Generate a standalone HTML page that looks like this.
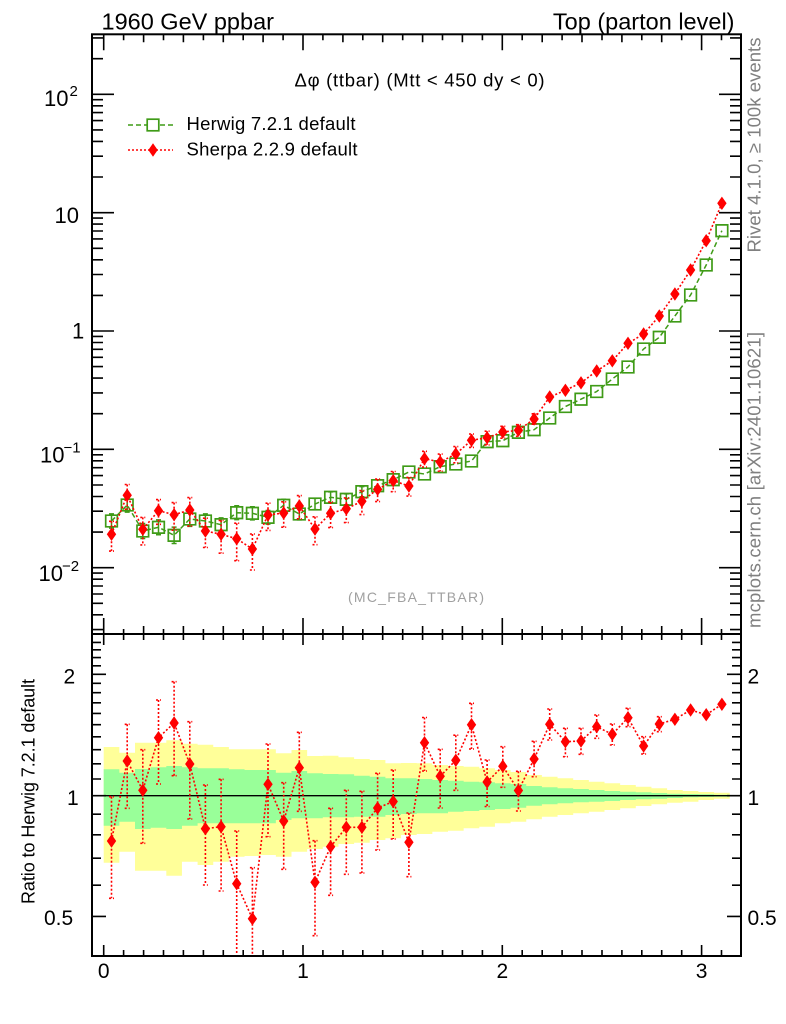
<!DOCTYPE html>
<html><head><meta charset="utf-8"><style>html,body{margin:0;padding:0;background:#fff}svg{display:block}</style></head>
<body>
<svg width="786" height="1024" viewBox="0 0 786 1024" xmlns="http://www.w3.org/2000/svg" font-family="'Liberation Sans', Arial, sans-serif">
<defs>
<clipPath id="cm"><rect x="92" y="34.3" width="649" height="599.7"/></clipPath>
<clipPath id="cr"><rect x="92" y="634" width="649" height="322"/></clipPath>
</defs>
<rect width="786" height="1024" fill="#fff"/>

<!-- Titles -->
<text x="101.5" y="29.3" font-size="23.5">1960 GeV ppbar</text>
<text x="734.5" y="29.3" font-size="23.5" text-anchor="end">Top (parton level)</text>
<text x="294.5" y="86.7" font-size="18.5" textLength="250" lengthAdjust="spacing">Δφ (ttbar) (Mtt &lt; 450 dy &lt; 0)</text>

<!-- Legend -->
<path d="M128 125H173" stroke="#3f9b17" stroke-width="1.5" stroke-dasharray="5 3" fill="none"/>
<rect x="147.2" y="119.2" width="11.6" height="11.6" fill="#fff" stroke="#3f9b17" stroke-width="1.7"/>
<text x="186.5" y="130" font-size="18.5" textLength="169">Herwig 7.2.1 default</text>
<path d="M128 150H173" stroke="#f00" stroke-width="1.6" stroke-dasharray="2 2" fill="none"/>
<path d="M153 143.3l4.7 6.7-4.7 6.7-4.7-6.7z" fill="#f00"/>
<text x="186.5" y="155.5" font-size="18.5" textLength="171">Sherpa 2.2.9 default</text>

<text x="348" y="602" font-size="14" fill="#a0a0a0" textLength="136">(MC_FBA_TTBAR)</text>

<!-- Side texts -->
<text transform="translate(760.5,145) rotate(-90)" text-anchor="middle" font-size="18.5" fill="#808080" textLength="215">Rivet 4.1.0, ≥ 100k events</text>
<text transform="translate(760.5,480) rotate(-90)" text-anchor="middle" font-size="18.5" fill="#808080" textLength="296">mcplots.cern.ch [arXiv:2401.10621]</text>
<text transform="translate(34.5,791.5) rotate(-90)" text-anchor="middle" font-size="18" textLength="225">Ratio to Herwig 7.2.1 default</text>

<!-- Ratio bands -->
<g clip-path="url(#cr)">
<path fill="#ffff99" d="M103.7 747H119.35V752.7H135V742.7H150.65V742.7H166.3V740.3H181.95V743.7H197.6V744.7H213.25V747H228.9V749.3H244.55V749.3H260.2V749.3H275.85V753.3H291.5V750H307.15V756H322.8V755.7H338.45V757.3H354.1V759H369.75V760H385.4V763.3H401.05V763H416.7V763.3H432.35V765H448V766H463.65V766.7H479.3V768.3H494.95V770H510.6V772H526.25V775H541.9V776.7H557.55V778.3H573.2V780H588.85V781.7H604.5V783.3H620.15V785H635.8V786.7H651.45V788.3H667.1V790H682.75V791H698.4V792H714.05V792.7H729.7V798.7H714.05V800H698.4V801.7H682.75V802.7H667.1V804.3H651.45V806H635.8V808.3H620.15V810H604.5V811.7H588.85V813.3H573.2V815H557.55V816.7H541.9V819.3H526.25V821.7H510.6V823.3H494.95V826.7H479.3V828.3H463.65V830.7H448V831.7H432.35V834H416.7V835H401.05V838.3H385.4V840H369.75V842.7H354.1V844H338.45V846.7H322.8V849H307.15V851.7H291.5V856.7H275.85V855H260.2V856H244.55V856.7H228.9V861.7H213.25V865H197.6V861.7H181.95V875.7H166.3V870.7H150.65V870.7H135V851.7H119.35V862.7H103.7Z"/>
<path fill="#99ff99" d="M103.7 769.3H119.35V772.7H135V769H150.65V767.3H166.3V766H181.95V767.3H197.6V768.3H213.25V768.3H228.9V769.3H244.55V770H260.2V770H275.85V772.7H291.5V771H307.15V773.3H322.8V774H338.45V774.3H354.1V775.7H369.75V776.7H385.4V778.3H401.05V778.3H416.7V779H432.35V780H448V780.7H463.65V781.7H479.3V782.3H494.95V783.3H510.6V784H526.25V786H541.9V787.3H557.55V788.3H573.2V789H588.85V790H604.5V791H620.15V791.7H635.8V792.3H651.45V793H667.1V793.7H682.75V794H698.4V794.3H714.05V794.7H729.7V796.7H714.05V797H698.4V797.3H682.75V798H667.1V798.7H651.45V799.3H635.8V800H620.15V801H604.5V801.7H588.85V802.3H573.2V803.3H557.55V804.3H541.9V805.7H526.25V807.7H510.6V809H494.95V810H479.3V811H463.65V811.7H448V813.3H432.35V813.3H416.7V814H401.05V815H385.4V816.7H369.75V816.7H354.1V817.3H338.45V817.3H322.8V818.3H307.15V818.3H291.5V820H275.85V823.3H260.2V823.3H244.55V823.3H228.9V823.3H213.25V823.3H197.6V825.7H181.95V829H166.3V827.7H150.65V829H135V821.7H119.35V825.7H103.7Z"/>
<path d="M92 795.7H741" stroke="#000" stroke-width="1.3"/>
<!-- ratio Sherpa -->
<path fill="none" stroke="#f00" stroke-width="1.6" stroke-dasharray="2 2" d="M111.5 796.7V898.3M109 796.7h5M109 898.3h5M127.2 724.3V808.3M124.7 724.3h5M124.7 808.3h5M142.8 749.7V843.3M140.3 749.7h5M140.3 843.3h5M158.5 700V784M156 700h5M156 784h5M174.1 681.7V775.7M171.6 681.7h5M171.6 775.7h5M189.8 721.7V819M187.3 721.7h5M187.3 819h5M205.4 785V885M202.9 785h5M202.9 885h5M221.1 779.3V891M218.6 779.3h5M218.6 891h5M236.7 831V960M234.2 831h5M252.4 867.7V990M249.9 867.7h5M268 744V836.7M265.5 744h5M265.5 836.7h5M283.7 782.7V869.3M281.2 782.7h5M281.2 869.3h5M299.3 732.3V811.3M296.8 732.3h5M296.8 811.3h5M315 840.7V935.7M312.5 840.7h5M312.5 935.7h5M330.6 808.3V895.3M328.1 808.3h5M328.1 895.3h5M346.3 790.3V874.3M343.8 790.3h5M343.8 874.3h5M361.9 791.3V873M359.4 791.3h5M359.4 873h5M377.6 773.3V850M375.1 773.3h5M375.1 850h5M393.2 770V839M390.7 770h5M390.7 839h5M408.9 813V876.7M406.4 813h5M406.4 876.7h5M424.5 717.5V771M422 717.5h5M422 771h5M440.2 749.3V808M437.7 749.3h5M437.7 808h5M455.8 735.2V790.3M453.3 735.2h5M453.3 790.3h5M471.5 703.3V749M469 703.3h5M469 749h5M487.1 760V806.5M484.6 760h5M484.6 806.5h5M502.8 746.7V787.3M500.3 746.7h5M500.3 787.3h5M518.4 771.3V811M515.9 771.3h5M515.9 811h5M534.1 741.3V776.7M531.6 741.3h5M531.6 776.7h5M549.7 709V740M547.2 709h5M547.2 740h5M565.4 728.3V756.7M562.9 728.3h5M562.9 756.7h5M581 728.3V754.3M578.5 728.3h5M578.5 754.3h5M596.7 715V738.3M594.2 715h5M594.2 738.3h5M612.3 724V745M609.8 724h5M609.8 745h5M628 708.3V726.7M625.5 708.3h5M625.5 726.7h5M643.6 736.7V754M641.1 736.7h5M641.1 754h5M659.3 716.7V731.7M656.8 716.7h5M656.8 731.7h5"/>
<polyline fill="none" stroke="#f00" stroke-width="1.6" stroke-dasharray="2 2" points="111.5,841 127.2,761 142.8,790.3 158.5,737.7 174.1,723 189.8,764 205.4,828.7 221.1,826.7 236.7,883.7 252.4,918.7 268,784.3 283.7,821 299.3,767.7 315,882.3 330.6,846.7 346.3,827.3 361.9,827.3 377.6,808 393.2,801.5 408.9,842.3 424.5,742.7 440.2,776.2 455.8,760.3 471.5,724.7 487.1,782 502.8,766.2 518.4,790.5 534.1,759 549.7,724.3 565.4,741.7 581,741 596.7,726.7 612.3,734.3 628,717.7 643.6,746 659.3,724 674.9,719.3 690.6,710 706.2,714.7 721.9,704.3"/>
<path fill="#f00" d="M111.5 834.3l4.7 6.7-4.7 6.7-4.7-6.7zM127.2 754.3l4.7 6.7-4.7 6.7-4.7-6.7zM142.8 783.6l4.7 6.7-4.7 6.7-4.7-6.7zM158.5 731l4.7 6.7-4.7 6.7-4.7-6.7zM174.1 716.3l4.7 6.7-4.7 6.7-4.7-6.7zM189.8 757.3l4.7 6.7-4.7 6.7-4.7-6.7zM205.4 822l4.7 6.7-4.7 6.7-4.7-6.7zM221.1 820l4.7 6.7-4.7 6.7-4.7-6.7zM236.7 877l4.7 6.7-4.7 6.7-4.7-6.7zM252.4 912l4.7 6.7-4.7 6.7-4.7-6.7zM268 777.6l4.7 6.7-4.7 6.7-4.7-6.7zM283.7 814.3l4.7 6.7-4.7 6.7-4.7-6.7zM299.3 761l4.7 6.7-4.7 6.7-4.7-6.7zM315 875.6l4.7 6.7-4.7 6.7-4.7-6.7zM330.6 840l4.7 6.7-4.7 6.7-4.7-6.7zM346.3 820.6l4.7 6.7-4.7 6.7-4.7-6.7zM361.9 820.6l4.7 6.7-4.7 6.7-4.7-6.7zM377.6 801.3l4.7 6.7-4.7 6.7-4.7-6.7zM393.2 794.8l4.7 6.7-4.7 6.7-4.7-6.7zM408.9 835.6l4.7 6.7-4.7 6.7-4.7-6.7zM424.5 736l4.7 6.7-4.7 6.7-4.7-6.7zM440.2 769.5l4.7 6.7-4.7 6.7-4.7-6.7zM455.8 753.6l4.7 6.7-4.7 6.7-4.7-6.7zM471.5 718l4.7 6.7-4.7 6.7-4.7-6.7zM487.1 775.3l4.7 6.7-4.7 6.7-4.7-6.7zM502.8 759.5l4.7 6.7-4.7 6.7-4.7-6.7zM518.4 783.8l4.7 6.7-4.7 6.7-4.7-6.7zM534.1 752.3l4.7 6.7-4.7 6.7-4.7-6.7zM549.7 717.6l4.7 6.7-4.7 6.7-4.7-6.7zM565.4 735l4.7 6.7-4.7 6.7-4.7-6.7zM581 734.3l4.7 6.7-4.7 6.7-4.7-6.7zM596.7 720l4.7 6.7-4.7 6.7-4.7-6.7zM612.3 727.6l4.7 6.7-4.7 6.7-4.7-6.7zM628 711l4.7 6.7-4.7 6.7-4.7-6.7zM643.6 739.3l4.7 6.7-4.7 6.7-4.7-6.7zM659.3 717.3l4.7 6.7-4.7 6.7-4.7-6.7zM674.9 712.6l4.7 6.7-4.7 6.7-4.7-6.7zM690.6 703.3l4.7 6.7-4.7 6.7-4.7-6.7zM706.2 708l4.7 6.7-4.7 6.7-4.7-6.7zM721.9 697.6l4.7 6.7-4.7 6.7-4.7-6.7z"/>
</g>

<!-- Main plot data -->
<g clip-path="url(#cm)">
<polyline fill="none" stroke="#3f9b17" stroke-width="1.5" stroke-dasharray="5 3" points="111.5,521 127.2,505 142.8,531 158.5,527.3 174.1,535.3 189.8,519 205.4,521 221.1,524.7 236.7,512.7 252.4,513.3 268,517.3 283.7,505.3 299.3,514 315,504 330.6,497.3 346.3,499.3 361.9,491.7 377.6,485.7 393.2,479.7 408.9,472 424.5,474 440.2,466.7 455.8,464 471.5,461 487.1,441.7 502.8,440.7 518.4,432.3 534.1,429.7 549.7,418 565.4,406.5 581,399.2 596.7,391.5 612.3,379 628,367 643.6,349 659.3,337.3 674.9,316 690.6,295 706.2,265 721.9,230.7"/>
<path fill="none" stroke="#3f9b17" stroke-width="1.5" d="M111.5 513.9V528.1M109 513.9h5M109 528.1h5M127.2 497.9V512.1M124.7 497.9h5M124.7 512.1h5M142.8 523.5V538.5M140.3 523.5h5M140.3 538.5h5M158.5 519.9V534.7M156 519.9h5M156 534.7h5M174.1 527.1V543.5M171.6 527.1h5M171.6 543.5h5M189.8 511.6V526.4M187.3 511.6h5M187.3 526.4h5M205.4 513.9V528.1M202.9 513.9h5M202.9 528.1h5M221.1 517.9V531.5M218.6 517.9h5M218.6 531.5h5M236.7 505.8V519.6M234.2 505.8h5M234.2 519.6h5M252.4 506.7V519.9M249.9 506.7h5M249.9 519.9h5M268 510.5V524.1M265.5 510.5h5M265.5 524.1h5M283.7 499.2V511.4M281.2 499.2h5M281.2 511.4h5M299.3 508.1V519.9M296.8 508.1h5M296.8 519.9h5M315 498.4V509.6M312.5 498.4h5M312.5 509.6h5M330.6 491.9V502.7M328.1 491.9h5M328.1 502.7h5M346.3 493.9V504.7M343.8 493.9h5M343.8 504.7h5M361.9 486.6V496.8M359.4 486.6h5M359.4 496.8h5"/>
<path fill="none" stroke="#3f9b17" stroke-width="1.7" d="M105.7 515.2h11.6v11.6h-11.6zM121.4 499.2h11.6v11.6h-11.6zM137 525.2h11.6v11.6h-11.6zM152.7 521.5h11.6v11.6h-11.6zM168.3 529.5h11.6v11.6h-11.6zM184 513.2h11.6v11.6h-11.6zM199.6 515.2h11.6v11.6h-11.6zM215.3 518.9h11.6v11.6h-11.6zM230.9 506.9h11.6v11.6h-11.6zM246.6 507.5h11.6v11.6h-11.6zM262.2 511.5h11.6v11.6h-11.6zM277.9 499.5h11.6v11.6h-11.6zM293.5 508.2h11.6v11.6h-11.6zM309.2 498.2h11.6v11.6h-11.6zM324.8 491.5h11.6v11.6h-11.6zM340.5 493.5h11.6v11.6h-11.6zM356.1 485.9h11.6v11.6h-11.6zM371.8 479.9h11.6v11.6h-11.6zM387.4 473.9h11.6v11.6h-11.6zM403.1 466.2h11.6v11.6h-11.6zM418.7 468.2h11.6v11.6h-11.6zM434.4 460.9h11.6v11.6h-11.6zM450 458.2h11.6v11.6h-11.6zM465.7 455.2h11.6v11.6h-11.6zM481.3 435.9h11.6v11.6h-11.6zM497 434.9h11.6v11.6h-11.6zM512.6 426.5h11.6v11.6h-11.6zM528.3 423.9h11.6v11.6h-11.6zM543.9 412.2h11.6v11.6h-11.6zM559.6 400.7h11.6v11.6h-11.6zM575.2 393.4h11.6v11.6h-11.6zM590.9 385.7h11.6v11.6h-11.6zM606.5 373.2h11.6v11.6h-11.6zM622.2 361.2h11.6v11.6h-11.6zM637.8 343.2h11.6v11.6h-11.6zM653.5 331.5h11.6v11.6h-11.6zM669.1 310.2h11.6v11.6h-11.6zM684.8 289.2h11.6v11.6h-11.6zM700.4 259.2h11.6v11.6h-11.6zM716.1 224.9h11.6v11.6h-11.6z"/>
<polyline fill="none" stroke="#f00" stroke-width="1.6" stroke-dasharray="2 2" points="111.5,534.3 127.2,495.3 142.8,529.3 158.5,510.7 174.1,514.7 189.8,510 205.4,531 221.1,534.3 236.7,538.7 252.4,549 268,515 283.7,513 299.3,506 315,529 330.6,513.3 346.3,508.8 361.9,501.2 377.6,489.3 393.2,480.7 408.9,486 424.5,458.7 440.2,462 455.8,454 471.5,440.3 487.1,437.7 502.8,432 518.4,430.3 534.1,419 549.7,397 565.4,390.3 581,382.8 596.7,371 612.3,360.8 628,343.3 643.6,334 659.3,316 674.9,294 690.6,270 706.2,240.7 721.9,203.3"/>
<path fill="none" stroke="#f00" stroke-width="1.6" stroke-dasharray="2 2" d="M111.5 521.3V551.1M109 521.3h5M109 551.1h5M127.2 484.5V509.2M124.7 484.5h5M124.7 509.2h5M142.8 517.4V544.9M140.3 517.4h5M140.3 544.9h5M158.5 499.6V524.3M156 499.6h5M156 524.3h5M174.1 502.6V530.2M171.6 502.6h5M171.6 530.2h5M189.8 497.6V526.1M187.3 497.6h5M187.3 526.1h5M205.4 518.2V547.5M202.9 518.2h5M202.9 547.5h5M221.1 520.4V553.2M218.6 520.4h5M218.6 553.2h5M236.7 523.2V560.7M234.2 523.2h5M234.2 560.7h5M252.4 534V570M249.9 534h5M249.9 570h5M268 503.2V530.4M265.5 503.2h5M265.5 530.4h5M283.7 501.8V527.2M281.2 501.8h5M281.2 527.2h5M299.3 495.6V518.8M296.8 495.6h5M296.8 518.8h5M315 516.8V544.7M312.5 516.8h5M312.5 544.7h5M330.6 502V527.6M328.1 502h5M328.1 527.6h5M346.3 497.9V522.6M343.8 497.9h5M343.8 522.6h5M361.9 490.6V514.6M359.4 490.6h5M359.4 514.6h5M377.6 479.1V501.6M375.1 479.1h5M375.1 501.6h5M393.2 471.5V491.7M390.7 471.5h5M390.7 491.7h5M408.9 477.4V496.1M406.4 477.4h5M406.4 496.1h5M424.5 451.3V467M422 451.3h5M422 467h5M440.2 454.1V471.3M437.7 454.1h5M437.7 471.3h5M455.8 446.6V462.8M453.3 446.6h5M453.3 462.8h5M471.5 434V447.4M469 434h5M469 447.4h5M487.1 431.2V444.9M484.6 431.2h5M484.6 444.9h5M502.8 426.3V438.2M500.3 426.3h5M500.3 438.2h5M518.4 424.7V436.3M515.9 424.7h5M515.9 436.3h5M534.1 413.8V424.2M531.6 413.8h5M531.6 424.2h5"/>
<path fill="#f00" d="M111.5 527.6l4.7 6.7-4.7 6.7-4.7-6.7zM127.2 488.6l4.7 6.7-4.7 6.7-4.7-6.7zM142.8 522.6l4.7 6.7-4.7 6.7-4.7-6.7zM158.5 504l4.7 6.7-4.7 6.7-4.7-6.7zM174.1 508l4.7 6.7-4.7 6.7-4.7-6.7zM189.8 503.3l4.7 6.7-4.7 6.7-4.7-6.7zM205.4 524.3l4.7 6.7-4.7 6.7-4.7-6.7zM221.1 527.6l4.7 6.7-4.7 6.7-4.7-6.7zM236.7 532l4.7 6.7-4.7 6.7-4.7-6.7zM252.4 542.3l4.7 6.7-4.7 6.7-4.7-6.7zM268 508.3l4.7 6.7-4.7 6.7-4.7-6.7zM283.7 506.3l4.7 6.7-4.7 6.7-4.7-6.7zM299.3 499.3l4.7 6.7-4.7 6.7-4.7-6.7zM315 522.3l4.7 6.7-4.7 6.7-4.7-6.7zM330.6 506.6l4.7 6.7-4.7 6.7-4.7-6.7zM346.3 502.1l4.7 6.7-4.7 6.7-4.7-6.7zM361.9 494.5l4.7 6.7-4.7 6.7-4.7-6.7zM377.6 482.6l4.7 6.7-4.7 6.7-4.7-6.7zM393.2 474l4.7 6.7-4.7 6.7-4.7-6.7zM408.9 479.3l4.7 6.7-4.7 6.7-4.7-6.7zM424.5 452l4.7 6.7-4.7 6.7-4.7-6.7zM440.2 455.3l4.7 6.7-4.7 6.7-4.7-6.7zM455.8 447.3l4.7 6.7-4.7 6.7-4.7-6.7zM471.5 433.6l4.7 6.7-4.7 6.7-4.7-6.7zM487.1 431l4.7 6.7-4.7 6.7-4.7-6.7zM502.8 425.3l4.7 6.7-4.7 6.7-4.7-6.7zM518.4 423.6l4.7 6.7-4.7 6.7-4.7-6.7zM534.1 412.3l4.7 6.7-4.7 6.7-4.7-6.7zM549.7 390.3l4.7 6.7-4.7 6.7-4.7-6.7zM565.4 383.6l4.7 6.7-4.7 6.7-4.7-6.7zM581 376.1l4.7 6.7-4.7 6.7-4.7-6.7zM596.7 364.3l4.7 6.7-4.7 6.7-4.7-6.7zM612.3 354.1l4.7 6.7-4.7 6.7-4.7-6.7zM628 336.6l4.7 6.7-4.7 6.7-4.7-6.7zM643.6 327.3l4.7 6.7-4.7 6.7-4.7-6.7zM659.3 309.3l4.7 6.7-4.7 6.7-4.7-6.7zM674.9 287.3l4.7 6.7-4.7 6.7-4.7-6.7zM690.6 263.3l4.7 6.7-4.7 6.7-4.7-6.7zM706.2 234l4.7 6.7-4.7 6.7-4.7-6.7zM721.9 196.6l4.7 6.7-4.7 6.7-4.7-6.7z"/>
</g>

<!-- Frames -->
<rect x="92" y="34.3" width="649" height="599.7" fill="none" stroke="#000" stroke-width="2"/>
<rect x="92" y="634" width="649" height="322" fill="none" stroke="#000" stroke-width="2"/>

<!-- Ticks -->
<g stroke="#000" stroke-width="1.6" fill="none">
<path d="M103.7 634v-16M303 634v-16M502.3 634v-16M701.6 634v-16M143.6 634v-8M183.4 634v-8M223.3 634v-8M263.1 634v-8M342.9 634v-8M382.7 634v-8M422.6 634v-8M462.4 634v-8M542.2 634v-8M582 634v-8M621.9 634v-8M661.7 634v-8M123.6 634v-5M163.5 634v-5M203.4 634v-5M243.2 634v-5M283.1 634v-5M322.9 634v-5M362.8 634v-5M402.7 634v-5M442.5 634v-5M482.4 634v-5M522.2 634v-5M562.1 634v-5M602 634v-5M641.8 634v-5M681.7 634v-5M721.5 634v-5"/>
<path d="M103.7 34.3v16M303 34.3v16M502.3 34.3v16M701.6 34.3v16M143.6 34.3v8M183.4 34.3v8M223.3 34.3v8M263.1 34.3v8M342.9 34.3v8M382.7 34.3v8M422.6 34.3v8M462.4 34.3v8M542.2 34.3v8M582 34.3v8M621.9 34.3v8M661.7 34.3v8M123.6 34.3v6M163.5 34.3v6M203.4 34.3v6M243.2 34.3v6M283.1 34.3v6M322.9 34.3v6M362.8 34.3v6M402.7 34.3v6M442.5 34.3v6M482.4 34.3v6M522.2 34.3v6M562.1 34.3v6M602 34.3v6M641.8 34.3v6M681.7 34.3v6M721.5 34.3v6"/>
<path d="M103.7 634v11M303 634v11M502.3 634v11M701.6 634v11M143.6 634v6M183.4 634v6M223.3 634v6M263.1 634v6M342.9 634v6M382.7 634v6M422.6 634v6M462.4 634v6M542.2 634v6M582 634v6M621.9 634v6M661.7 634v6M123.6 634v6M163.5 634v6M203.4 634v6M243.2 634v6M283.1 634v6M322.9 634v6M362.8 634v6M402.7 634v6M442.5 634v6M482.4 634v6M522.2 634v6M562.1 634v6M602 634v6M641.8 634v6M681.7 634v6M721.5 634v6"/>
<path d="M103.7 956v-11M303 956v-11M502.3 956v-11M701.6 956v-11M143.6 956v-6M183.4 956v-6M223.3 956v-6M263.1 956v-6M342.9 956v-6M382.7 956v-6M422.6 956v-6M462.4 956v-6M542.2 956v-6M582 956v-6M621.9 956v-6M661.7 956v-6M123.6 956v-6M163.5 956v-6M203.4 956v-6M243.2 956v-6M283.1 956v-6M322.9 956v-6M362.8 956v-6M402.7 956v-6M442.5 956v-6M482.4 956v-6M522.2 956v-6M562.1 956v-6M602 956v-6M641.8 956v-6M681.7 956v-6M721.5 956v-6"/>
<path d="M92 94.35h22M92 212.65h22M92 331h22M92 449.35h22M92 567.7h22M92 629.6h11M92 614.8h11M92 603.3h11M92 594h11M92 586h11M92 579.2h11M92 573.1h11M92 532.1h11M92 511.2h11M92 496.5h11M92 485h11M92 475.6h11M92 467.7h11M92 460.8h11M92 454.8h11M92 413.7h11M92 392.9h11M92 378.1h11M92 366.6h11M92 357.3h11M92 349.3h11M92 342.5h11M92 336.4h11M92 295.4h11M92 274.5h11M92 259.8h11M92 248.3h11M92 238.9h11M92 231h11M92 224.1h11M92 218.1h11M92 177h11M92 156.2h11M92 141.4h11M92 129.9h11M92 120.6h11M92 112.6h11M92 105.8h11M92 99.7h11M92 58.7h11M92 37.9h11"/>
<path d="M741 94.35h-22M741 212.65h-22M741 331h-22M741 449.35h-22M741 567.7h-22M741 629.6h-11M741 614.8h-11M741 603.3h-11M741 594h-11M741 586h-11M741 579.2h-11M741 573.1h-11M741 532.1h-11M741 511.2h-11M741 496.5h-11M741 485h-11M741 475.6h-11M741 467.7h-11M741 460.8h-11M741 454.8h-11M741 413.7h-11M741 392.9h-11M741 378.1h-11M741 366.6h-11M741 357.3h-11M741 349.3h-11M741 342.5h-11M741 336.4h-11M741 295.4h-11M741 274.5h-11M741 259.8h-11M741 248.3h-11M741 238.9h-11M741 231h-11M741 224.1h-11M741 218.1h-11M741 177h-11M741 156.2h-11M741 141.4h-11M741 129.9h-11M741 120.6h-11M741 112.6h-11M741 105.8h-11M741 99.7h-11M741 58.7h-11M741 37.9h-11"/>
<path d="M92 916.4h14M92 795.7h14M92 674.3h14M92 885.2h9M92 858.2h9M92 834.8h9M92 814.2h9M92 779h9M92 763.8h9M92 749.7h9M92 736.8h9M92 724.7h9M92 713.4h9M92 702.8h9M92 692.7h9M92 683.3h9M92 665.8h9M92 657.6h9M92 649.8h9M92 642.4h9"/>
<path d="M741 916.4h-14M741 795.7h-14M741 674.3h-14M741 885.2h-9M741 858.2h-9M741 834.8h-9M741 814.2h-9M741 779h-9M741 763.8h-9M741 749.7h-9M741 736.8h-9M741 724.7h-9M741 713.4h-9M741 702.8h-9M741 692.7h-9M741 683.3h-9M741 665.8h-9M741 657.6h-9M741 649.8h-9M741 642.4h-9"/>
</g>

<!-- Main y labels -->
<text x="44" y="106" font-size="22">10</text><text x="69.5" y="96" font-size="15">2</text>
<text x="79" y="223" font-size="22" text-anchor="end">10</text>
<text x="72" y="338.5" font-size="22">1</text>
<text x="40" y="462.5" font-size="22">10</text><text x="63.5" y="452.5" font-size="15">−1</text>
<text x="38.5" y="581" font-size="22">10</text><text x="62" y="571" font-size="15">−2</text>

<!-- Ratio y labels -->
<text x="63.5" y="683.5" font-size="21">2</text>
<text x="67" y="805" font-size="21">1</text>
<text x="44" y="925" font-size="21">0.5</text>
<text x="747.5" y="683.5" font-size="21">2</text>
<text x="747.5" y="805" font-size="21">1</text>
<text x="747.5" y="925" font-size="21">0.5</text>

<!-- X labels -->
<text x="103.7" y="978" font-size="21" text-anchor="middle">0</text>
<text x="303" y="978" font-size="21" text-anchor="middle">1</text>
<text x="502.3" y="978" font-size="21" text-anchor="middle">2</text>
<text x="701.6" y="978" font-size="21" text-anchor="middle">3</text>
</svg>
</body></html>
